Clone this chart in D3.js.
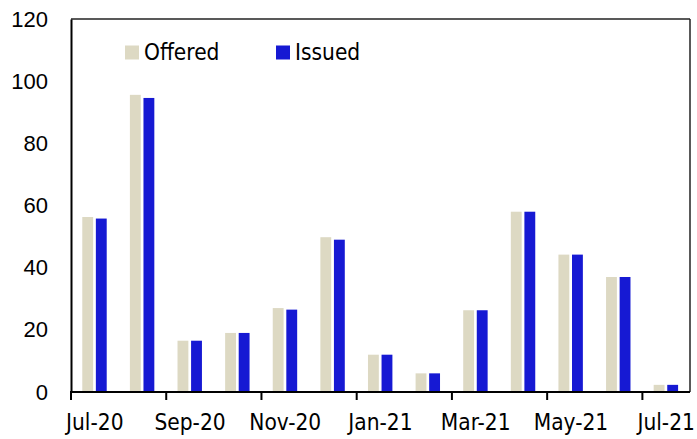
<!DOCTYPE html>
<html><head><meta charset="utf-8">
<script src="https://cdn.jsdelivr.net/npm/d3@7"></script>
<style>body{margin:0;background:#fff;} svg{display:block;font-family:"DejaVu Sans Condensed","DejaVu Sans",sans-serif;font-stretch:condensed;}</style>
</head><body><svg id="c" width="697" height="439"></svg>
<script>
const months = ["Jul-20","Aug-20","Sep-20","Oct-20","Nov-20","Dec-20","Jan-21","Feb-21","Mar-21","Apr-21","May-21","Jun-21","Jul-21"];
const offered = [56.3, 95.6, 16.5, 19.0, 27.0, 49.8, 12.0, 6.0, 26.3, 58.0, 44.2, 37.0, 2.3];
const issued  = [55.8, 94.6, 16.5, 19.0, 26.5, 49.0, 12.0, 6.0, 26.3, 58.0, 44.2, 37.0, 2.3];
const seriesNames = ["Offered","Issued"];
const colors = ["#DDD9C3","#1619D3"];
const yTicks = [0,20,40,60,80,100,120];
const xLabelMonths = ["Jul-20","Sep-20","Nov-20","Jan-21","Mar-21","May-21","Jul-21"];

const svg = d3.select("#c");
const L = 71, R = 690, T = 19, B = 392;
const x = d3.scaleBand().domain(months).range([L, R]).padding(0);
const bw = x.bandwidth();
const x1 = d3.scaleBand().domain(seriesNames).range([bw*0.237, bw*0.75]).paddingInner(0.2);
const y = d3.scaleLinear().domain([0,120]).range([B, T]);

// bars
const data = [offered, issued];
seriesNames.forEach((s, si) => {
  svg.append("g").selectAll("rect").data(months).join("rect")
    .attr("x", m => x(m) + x1(s))
    .attr("width", x1.bandwidth())
    .attr("y", (m,i) => y(data[si][i]))
    .attr("height", (m,i) => B - y(data[si][i]))
    .attr("fill", colors[si]);
});

// frame
svg.append("line").attr("x1", L).attr("x2", R).attr("y1", T).attr("y2", T).attr("stroke","#222").attr("stroke-width",1.5);
svg.append("line").attr("x1", R).attr("x2", R).attr("y1", T).attr("y2", B).attr("stroke","#222").attr("stroke-width",1.5);

// y axis
const yAxis = d3.axisLeft(y).tickValues(yTicks).tickSize(0).tickPadding(23);
const gy = svg.append("g").attr("transform", `translate(${L},0)`).call(yAxis);
gy.select(".domain").attr("stroke","#000").attr("stroke-width",2);
gy.selectAll("text").attr("font-size","22px").attr("fill","#000").attr("font-family",null);

// x axis: ticks at band left edges every other month
const gx = svg.append("g").attr("transform", `translate(0,${B})`);
gx.append("line").attr("x1", L-1).attr("x2", R).attr("stroke","#000").attr("stroke-width",2);
gx.selectAll(".tk").data(xLabelMonths).join("line")
  .attr("x1", m => x(m)).attr("x2", m => x(m))
  .attr("y1", 0).attr("y2", 8).attr("stroke","#000").attr("stroke-width",2);
gx.selectAll(".lb").data(xLabelMonths).join("text")
  .attr("x", m => x(m) + bw/2).attr("y", 38)
  .attr("text-anchor","middle").attr("font-size","22.5px").attr("fill","#000")
  .text(m => m);

// legend
const leg = [{name:"Offered", x:125, c:colors[0]},{name:"Issued", x:276, c:colors[1]}];
const lg = svg.append("g");
leg.forEach(d => {
  lg.append("rect").attr("x", d.x).attr("y", 45.5).attr("width", 14).attr("height", 14).attr("fill", d.c);
  lg.append("text").attr("x", d.x + 19).attr("y", 59.5).attr("font-size","22.5px").attr("fill","#000").text(d.name);
});
</script></body></html>
